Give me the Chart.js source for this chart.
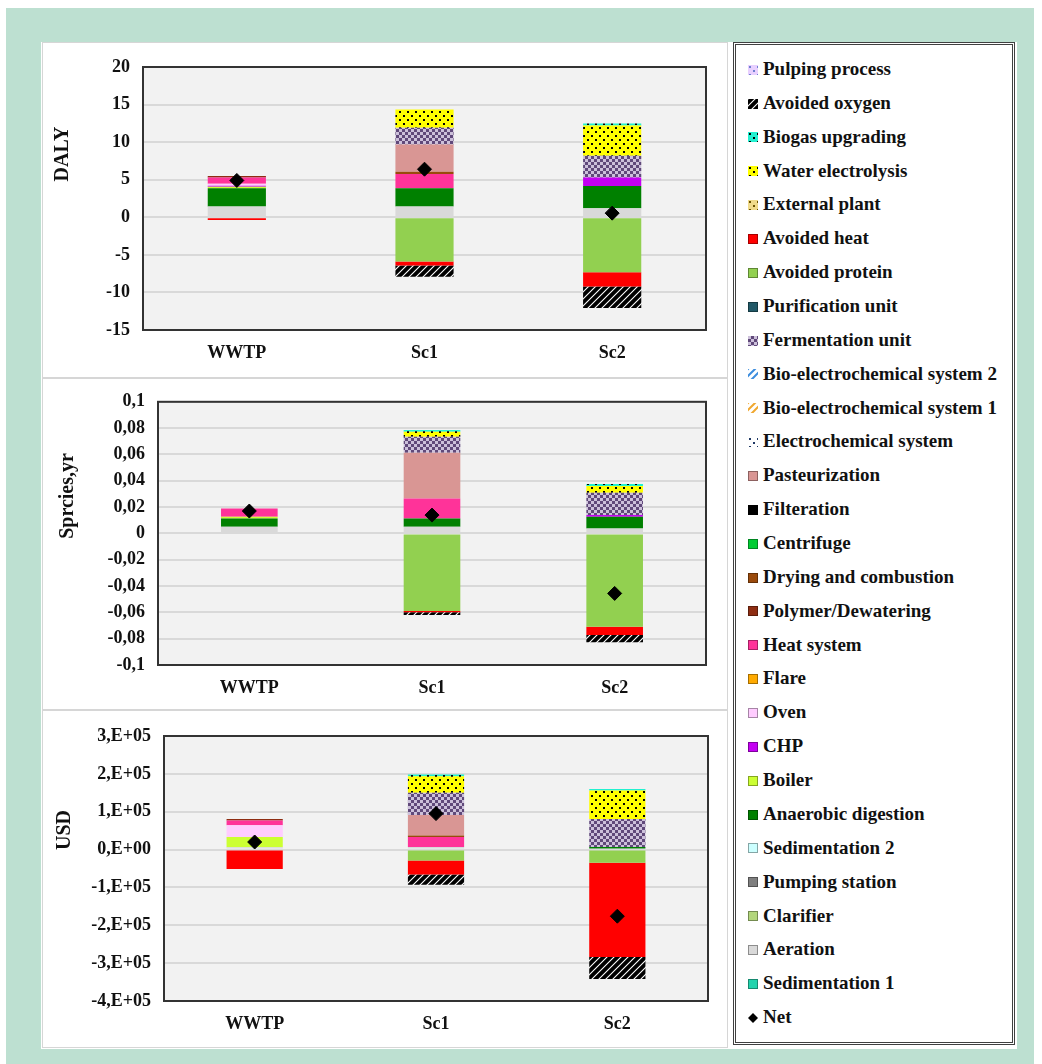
<!DOCTYPE html>
<html>
<head>
<meta charset="utf-8">
<title>Impact results</title>
<script src="https://cdn.jsdelivr.net/npm/chart.js@4.4.1/dist/chart.umd.min.js"></script>
<style>
  body { margin: 0; width: 1042px; height: 1064px; background: #fff; position: relative; overflow: hidden; font-family: "Liberation Serif", "DejaVu Serif", serif; }
  #frame { position: absolute; left: 6px; top: 8px; width: 1028px; height: 1056px; background: #bde0d1; }
  #sheet { position: absolute; left: 41px; top: 42px; width: 976px; height: 1007px; background: #fff; }
  .box { position: absolute; left: 42px; width: 686px; border: 1px solid #d6d6d6; box-sizing: border-box; background: #fff; overflow: hidden; }
  .box canvas { position: absolute; left: -1px; top: -1px; }
  #legend { position: absolute; left: 733px; top: 42px; width: 282px; height: 1003px; border: 3px double #404040; box-sizing: border-box; background: #fff; }
  .item { position: absolute; left: 12px; height: 22px; line-height: 22px; font-weight: bold; font-size: 19px; white-space: nowrap; color: #111; }
  .item canvas { vertical-align: middle; margin-right: 5px; position: relative; top: -1px; }
</style>
</head>
<body>
<div id="frame"></div>
<div id="sheet"></div>
<div class="box" style="top:42px;height:336px"><canvas id="dalyChart" width="686" height="336"></canvas></div>
<div class="box" style="top:378px;height:332px"><canvas id="speciesChart" width="686" height="332"></canvas></div>
<div class="box" style="top:710px;height:338px"><canvas id="usdChart" width="686" height="338"></canvas></div>
<div id="legend"></div>

<script>
const categories = ["WWTP", "Sc1", "Sc2"];

// stacking order, bottom to top (legend shows it reversed)
const seriesNames = [
  "Sedimentation 1", "Aeration", "Clarifier", "Pumping station", "Sedimentation 2",
  "Anaerobic digestion", "Boiler", "CHP", "Oven", "Flare", "Heat system",
  "Polymer/Dewatering", "Drying and combustion", "Centrifuge", "Filteration",
  "Pasteurization", "Electrochemical system", "Bio-electrochemical system 1",
  "Bio-electrochemical system 2", "Fermentation unit", "Purification unit",
  "Avoided protein", "Avoided heat", "External plant", "Water electrolysis",
  "Biogas upgrading", "Avoided oxygen", "Pulping process"
];
const seriesColors = [
  "#22d3ad", "#d9d9d9", "#b3d67c", "#7f7f7f", "#ccffff",
  "#008000", "#ccff33", "#c400f2", "#ffccff", "#ffaa00", "#ff3399",
  "#8e2d12", "#9a4a0c", "#00cc33", "#000000",
  "#d99694", "#ffffff", "#ffffff",
  "#ffffff", "#ccc0da", "#215968",
  "#92d050", "#ff0000", "#f0da8a", "#ffff00",
  "#22f0d0", "#000000", "#e8d0ff"
];
const seriesPatterns = [
  "", "", "", "", "",
  "", "", "", "", "", "",
  "", "", "", "",
  "", "dots", "diag",
  "diag", "checker", "",
  "", "", "dots", "dots",
  "dots", "hatch", "dots"
];
const seriesInk = [
  "", "", "", "", "",
  "", "", "", "", "", "",
  "", "", "", "",
  "", "#1f3864", "#f0a830",
  "#3c8dde", "#60497a", "",
  "", "", "#6b5200", "#000000",
  "#000000", "#ffffff", "#6f7fd0"
];

// DALY
const dalyAeration = [1.42, 1.42, 1.19];
const dalyDigestion = [2.43, 2.43, 2.97];
const dalyBoiler = [0.22, 0, 0];
const dalyCHP = [0.13, 0, 1.14];
const dalyOven = [0.25, 0, 0];
const dalyHeatSystem = [0.85, 1.9, 0];
const dalyPolymer = [0.2, 0, 0];
const dalyDrying = [0, 0.31, 0];
const dalyPasteurization = [0, 3.63, 0];
const dalyFermentation = [0, 2.21, 2.89];
const dalyProtein = [0, -5.9, -7.3];
const dalyAvoidedHeat = [-0.35, -0.5, -1.9];
const dalyElectrolysis = [0, 2.44, 4.01];
const dalyBiogas = [0, 0, 0.28];
const dalyOxygen = [0, -1.5, -2.88];
const dalyNet = [4.9, 6.4, 0.55];
const dalyTicks = ["-15", "-10", "-5", "0", "5", "10", "15", "20"];

// Species.yr
const spAeration = [0.005, 0.005, 0.0038];
const spDigestion = [0.0064, 0.0064, 0.0089];
const spBoiler = [0.0013, 0, 0];
const spCHP = [0, 0, 0.0012];
const spHeatSystem = [0.0063, 0.0152, 0];
const spPasteurization = [0, 0.0347, 0];
const spFermentation = [0, 0.0121, 0.017];
const spProtein = [0, -0.059, -0.0709];
const spAvoidedHeat = [0, -0.001, -0.0063];
const spElectrolysis = [0, 0.0038, 0.0051];
const spBiogas = [0, 0.0013, 0.0015];
const spOxygen = [0, -0.002, -0.0056];
const spNet = [0.017, 0.0139, -0.0456];
const spTicks = ["-0,1", "-0,08", "-0,06", "-0,04", "-0,02", "0", "0,02", "0,04", "0,06", "0,08", "0,1"];

// USD
const usdAeration = [6000, 7000, 2600];
const usdDigestion = [0, 0, 4400];
const usdBoiler = [27500, 0, 0];
const usdOven = [31000, 0, 0];
const usdHeatSystem = [12500, 26000, 0];
const usdPolymer = [4000, 0, 0];
const usdDrying = [0, 4000, 0];
const usdPasteurization = [0, 54000, 0];
const usdFermentation = [0, 59000, 74000];
const usdProtein = [0, -29000, -35000];
const usdAvoidedHeat = [-51000, -37000, -249000];
const usdElectrolysis = [0, 44000, 75000];
const usdBiogas = [0, 4000, 4000];
const usdOxygen = [0, -27000, -58000];
const usdNet = [20000, 95000, -176000];
const usdTicks = ["-4,E+05", "-3,E+05", "-2,E+05", "-1,E+05", "0,E+00", "1,E+05", "2,E+05", "3,E+05"];

function makeFill(color, pattern, ink) {
  if (!pattern) return color;
  const tile = document.createElement("canvas");
  const c = tile.getContext("2d");
  if (pattern === "dots") {
    tile.width = 8; tile.height = 8;
    c.fillStyle = color; c.fillRect(0, 0, 8, 8);
    c.fillStyle = ink; c.fillRect(1, 1, 2, 2); c.fillRect(5, 5, 2, 2);
  } else if (pattern === "checker") {
    tile.width = 6; tile.height = 6;
    c.fillStyle = ink; c.fillRect(0, 0, 6, 6);
    c.fillStyle = color; c.fillRect(0, 0, 3, 3); c.fillRect(3, 3, 3, 3);
  } else {
    tile.width = 7; tile.height = 7;
    c.fillStyle = color; c.fillRect(0, 0, 7, 7);
    c.strokeStyle = ink; c.lineWidth = pattern === "hatch" ? 1.1 : 2;
    c.beginPath();
    c.moveTo(-1, 8); c.lineTo(8, -1);
    c.moveTo(-2, 2); c.lineTo(2, -2);
    c.moveTo(5, 9); c.lineTo(9, 5);
    c.stroke();
  }
  return c.createPattern(tile, "repeat");
}

const fills = seriesNames.map((n, i) => makeFill(seriesColors[i], seriesPatterns[i], seriesInk[i]));

const plotFrame = {
  id: "plotFrame",
  beforeDraw(chart) {
    const { ctx, chartArea: a } = chart;
    ctx.save();
    ctx.fillStyle = "#f2f2f2";
    ctx.fillRect(a.left, a.top, a.right - a.left, a.bottom - a.top);
    ctx.restore();
  },
  afterDraw(chart) {
    const { ctx, chartArea: a } = chart;
    ctx.save();
    ctx.strokeStyle = "#333";
    ctx.lineWidth = 2;
    ctx.strokeRect(a.left, a.top, a.right - a.left, a.bottom - a.top);
    ctx.restore();
  }
};

// excel puts the axis title a bit above the middle, so place it by hand
const sideTitle = {
  id: "sideTitle",
  afterDraw(chart, args, opts) {
    const ctx = chart.ctx;
    ctx.save();
    ctx.translate(opts.x, opts.y);
    ctx.rotate(-Math.PI / 2);
    ctx.font = 'bold 20px "Liberation Serif", "DejaVu Serif", serif';
    ctx.fillStyle = "#111";
    ctx.textAlign = "center";
    ctx.textBaseline = "middle";
    ctx.fillText(opts.text, 0, 0);
    ctx.restore();
  }
};

function buildDatasets(values, net) {
  const sets = seriesNames.map((name, i) => ({
    type: "bar",
    label: name,
    data: values[name] || [0, 0, 0],
    backgroundColor: fills[i],
    borderWidth: 0,
    barPercentage: 0.31,
    categoryPercentage: 1
  }));
  sets.push({
    type: "line",
    label: "Net",
    data: net,
    showLine: false,
    pointStyle: "rectRot",
    pointRadius: 7,
    pointHoverRadius: 7,
    backgroundColor: "#000",
    borderColor: "#000",
    order: -1
  });
  return sets;
}

Chart.defaults.font.family = '"Liberation Serif", "DejaVu Serif", serif';
Chart.defaults.color = "#111";

function drawChart(id, values, net, axis) {
  const tickFont = { family: '"Liberation Serif", "DejaVu Serif", serif', size: 18, weight: "bold" };
  new Chart(document.getElementById(id), {
    data: { labels: categories, datasets: buildDatasets(values, net) },
    options: {
      responsive: false,
      animation: false,
      layout: { padding: { top: axis.top, right: axis.right, bottom: 0, left: 0 } },
      plugins: {
        legend: { display: false },
        tooltip: { enabled: false },
        sideTitle: axis.title
      },
      scales: {
        x: {
          stacked: true,
          grid: { display: false, drawTicks: false },
          border: { display: false },
          ticks: { color: "#111", padding: 13, font: tickFont },
          afterFit: (s) => { s.height = axis.bottom; }
        },
        y: {
          stacked: true,
          min: axis.min,
          max: axis.max,
          grid: { color: "#d9d9d9", lineWidth: 2, drawTicks: false },
          border: { display: false },
          ticks: {
            stepSize: axis.step,
            autoSkip: false,
            padding: 13,
            color: "#111",
            font: tickFont,
            callback: (v, i) => axis.labels[i]
          },
          afterFit: (s) => { s.width = axis.left; }
        }
      }
    },
    plugins: [plotFrame, sideTitle]
  });
}

drawChart("dalyChart", {
  "Aeration": dalyAeration, "Anaerobic digestion": dalyDigestion, "Boiler": dalyBoiler,
  "CHP": dalyCHP, "Oven": dalyOven, "Heat system": dalyHeatSystem,
  "Polymer/Dewatering": dalyPolymer, "Drying and combustion": dalyDrying,
  "Pasteurization": dalyPasteurization, "Fermentation unit": dalyFermentation,
  "Avoided protein": dalyProtein, "Avoided heat": dalyAvoidedHeat,
  "Water electrolysis": dalyElectrolysis, "Biogas upgrading": dalyBiogas, "Avoided oxygen": dalyOxygen
}, dalyNet, {
  min: -15, max: 20, step: 5, labels: dalyTicks,
  left: 101, right: 22, top: 25, bottom: 48,
  title: { text: "DALY", x: 21, y: 112 }
});

drawChart("speciesChart", {
  "Aeration": spAeration, "Anaerobic digestion": spDigestion, "Boiler": spBoiler,
  "CHP": spCHP, "Heat system": spHeatSystem, "Pasteurization": spPasteurization,
  "Fermentation unit": spFermentation, "Avoided protein": spProtein,
  "Avoided heat": spAvoidedHeat, "Water electrolysis": spElectrolysis,
  "Biogas upgrading": spBiogas, "Avoided oxygen": spOxygen
}, spNet, {
  min: -0.1, max: 0.1, step: 0.02, labels: spTicks,
  left: 116, right: 22, top: 20, bottom: 45,
  title: { text: "Sprcies,yr", x: 26, y: 118 }
});

drawChart("usdChart", {
  "Aeration": usdAeration, "Anaerobic digestion": usdDigestion, "Boiler": usdBoiler,
  "Oven": usdOven, "Heat system": usdHeatSystem, "Polymer/Dewatering": usdPolymer,
  "Drying and combustion": usdDrying, "Pasteurization": usdPasteurization,
  "Fermentation unit": usdFermentation, "Avoided protein": usdProtein,
  "Avoided heat": usdAvoidedHeat, "Water electrolysis": usdElectrolysis,
  "Biogas upgrading": usdBiogas, "Avoided oxygen": usdOxygen
}, usdNet, {
  min: -400000, max: 300000, step: 100000, labels: usdTicks,
  left: 122, right: 20, top: 26, bottom: 47,
  title: { text: "USD", x: 23, y: 120 }
});

// legend box on the right
const legend = document.getElementById("legend");
const legendNames = seriesNames.slice().reverse().concat(["Net"]);
legendNames.forEach((name, k) => {
  const item = document.createElement("div");
  item.className = "item";
  item.style.top = (13 + k * 33.86) + "px";
  const sw = document.createElement("canvas");
  sw.width = 10; sw.height = 10;
  const c = sw.getContext("2d");
  if (name === "Net") {
    c.fillStyle = "#000";
    c.beginPath(); c.moveTo(5, 0); c.lineTo(10, 5); c.lineTo(5, 10); c.lineTo(0, 5); c.closePath(); c.fill();
  } else {
    const i = seriesNames.indexOf(name);
    c.fillStyle = fills[i];
    c.fillRect(0, 0, 10, 10);
    if (!seriesPatterns[i]) {
      c.strokeStyle = "rgba(0,0,0,0.35)";
      c.strokeRect(0.5, 0.5, 9, 9);
    }
  }
  item.appendChild(sw);
  item.appendChild(document.createTextNode(name));
  legend.appendChild(item);
});
</script>
</body>
</html>
